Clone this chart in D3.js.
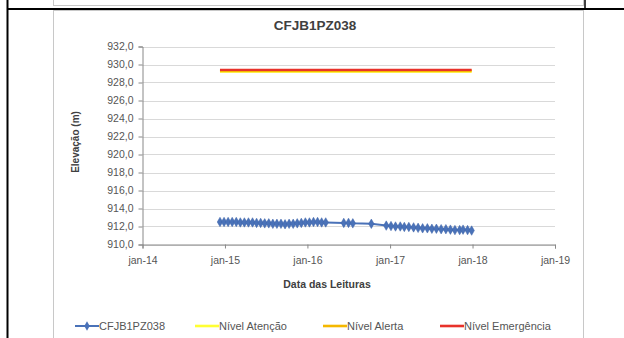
<!DOCTYPE html>
<html><head><meta charset="utf-8">
<script src="https://cdnjs.cloudflare.com/ajax/libs/d3/7.8.5/d3.min.js"></script>
<style>body{margin:0;background:#fff}svg{display:block}</style>
</head><body>
<svg id="c" width="624" height="338"></svg>
<script>
const title = "CFJB1PZ038";
const yTicks = [910,912,914,916,918,920,922,924,926,928,930,932];
const xTickDates = ["2014-01-01","2015-01-01","2016-01-01","2017-01-01","2018-01-01","2019-01-01"];
const xTickLabels = ["jan-14","jan-15","jan-16","jan-17","jan-18","jan-19"];
const readDates = ["2014-12-10","2014-12-28","2015-01-15","2015-02-02","2015-02-20","2015-03-10","2015-03-28","2015-04-15","2015-05-03","2015-05-21","2015-06-08","2015-06-26","2015-07-14","2015-08-01","2015-08-19","2015-09-06","2015-09-24","2015-10-12","2015-10-30","2015-11-17","2015-12-05","2015-12-23","2016-01-10","2016-01-28","2016-02-15","2016-03-04","2016-03-22","2016-06-10","2016-07-01","2016-07-20","2016-10-10","2016-12-15","2017-01-05","2017-01-25","2017-02-15","2017-03-05","2017-03-25","2017-04-15","2017-05-05","2017-05-25","2017-06-15","2017-07-05","2017-07-25","2017-08-15","2017-09-05","2017-09-25","2017-10-15","2017-11-05","2017-11-20","2017-12-10","2017-12-28"];
const readValues = [912.5,912.5,912.5,912.5,912.5,912.45,912.45,912.45,912.45,912.4,912.4,912.35,912.35,912.3,912.3,912.3,912.25,912.3,912.3,912.35,912.4,912.45,912.45,912.5,912.5,912.45,912.45,912.4,912.4,912.35,912.3,912.1,912.05,912.0,912.0,911.95,911.95,911.9,911.85,911.8,911.8,911.75,911.75,911.7,911.7,911.65,911.6,911.6,911.65,911.6,911.55];
const limitDates = ["2014-12-10","2017-12-28"];
const nivelAtencao = [929.25,929.25];
const nivelAlerta = [929.3,929.3];
const nivelEmergencia = [929.4,929.4];
const seriesNames = ["CFJB1PZ038","Nível Atenção","Nível Alerta","Nível Emergência"];
const seriesColors = ["#4a72b8","#ffff33","#f5b800","#e8322a"];

const svg = d3.select("#c");
const parse = d3.timeParse("%Y-%m-%d");
const font = "'Liberation Sans', Arial, sans-serif";

// table lines
svg.append("line").attr("x1",7.5).attr("x2",7.5).attr("y1",0).attr("y2",338).attr("stroke","#000").attr("stroke-width",2);
svg.append("line").attr("x1",7).attr("x2",624).attr("y1",9).attr("y2",9).attr("stroke","#000").attr("stroke-width",2);
svg.append("line").attr("x1",585).attr("x2",585).attr("y1",0).attr("y2",9).attr("stroke","#000").attr("stroke-width",1.5);
// previous chart frame
svg.append("rect").attr("x",53.5).attr("y",-10).attr("width",530).attr("height",15.5).attr("fill","#fff").attr("stroke","#c8c8c8");
// chart frame
svg.append("rect").attr("x",53.5).attr("y",10.5).attr("width",530).attr("height",340).attr("fill","#fff").attr("stroke","#c8c8c8");

const x = d3.scaleTime().domain([parse(xTickDates[0]), parse(xTickDates[xTickDates.length-1])]).range([142.5,555]);
const y = d3.scaleLinear().domain([910,932]).range([244.5,46.5]);

// gridlines
svg.append("g").selectAll("line").data(yTicks).join("line")
  .attr("x1",142.5).attr("x2",555).attr("y1",d=>Math.round(y(d))+0.5).attr("y2",d=>Math.round(y(d))+0.5)
  .attr("stroke","#d9d9d9");

// y axis
const yAxis = d3.axisLeft(y).tickValues(yTicks).tickSize(4).tickPadding(5).tickFormat(d=>d3.format(".1f")(d).replace(".",","));
const gy = svg.append("g").attr("transform","translate(142.5,0)").call(yAxis);
gy.select(".domain").attr("stroke","#888");
gy.selectAll(".tick line").attr("stroke","#888");
gy.selectAll("text").attr("font-family",font).attr("font-size",10.5).attr("fill","#555");

// x axis
const xAxis = d3.axisBottom(x).tickValues(xTickDates.map(parse)).tickSize(4).tickPadding(8).tickFormat((d,i)=>xTickLabels[i]);
const gx = svg.append("g").attr("transform","translate(0,244.5)").call(xAxis);
gx.select(".domain").attr("stroke","#888");
gx.selectAll(".tick line").attr("stroke","#888");
gx.selectAll("text").attr("font-family",font).attr("font-size",10.5).attr("fill","#555");

// limit lines
const limits = [nivelAtencao, nivelAlerta, nivelEmergencia];
const line = d3.line().x(d=>x(d[0])).y(d=>y(d[1]));
const limW = [3,2.8,2.4];
limits.forEach((vals,i)=>{
  const pts = limitDates.map((d,j)=>[parse(d), vals[j]]);
  svg.append("path").attr("d",line(pts)).attr("fill","none").attr("stroke",seriesColors[i+1]).attr("stroke-width",limW[i]);
});

// reading series
const pts = readDates.map((d,i)=>[parse(d), readValues[i]]);
svg.append("path").attr("d",line(pts)).attr("fill","none").attr("stroke",seriesColors[0]).attr("stroke-width",2);
const diamond = d3.symbol().type(d3.symbolDiamond).size(26);
svg.append("g").selectAll("path").data(pts).join("path")
  .attr("transform",d=>`translate(${x(d[0])},${y(d[1])})`).attr("d",diamond)
  .attr("fill",seriesColors[0]).attr("stroke","#3d63a8").attr("stroke-width",0.5);

// titles
svg.append("text").attr("x",315).attr("y",30).attr("text-anchor","middle").attr("font-family",font)
  .attr("font-weight","bold").attr("font-size",13.5).attr("fill","#404040").text(title);
svg.append("text").attr("x",327).attr("y",288).attr("text-anchor","middle").attr("font-family",font)
  .attr("font-weight","bold").attr("font-size",10.5).attr("fill","#404040").text("Data das Leituras");
svg.append("text").attr("transform","translate(79,142) rotate(-90)").attr("text-anchor","middle").attr("font-family",font)
  .attr("font-weight","bold").attr("font-size",10).attr("fill","#404040").text("Elevação (m)");

// legend
const legX = [75,195,323,440];
const lg = svg.append("g");
seriesNames.forEach((n,i)=>{
  const g = lg.append("g").attr("transform",`translate(${legX[i]},326)`);
  g.append("line").attr("x1",0).attr("x2",24).attr("y1",0).attr("y2",0).attr("stroke",seriesColors[i]).attr("stroke-width",i===0?2:2.6);
  if(i===0) g.append("path").attr("transform","translate(12,0)").attr("d",diamond).attr("fill",seriesColors[0]);
  g.append("text").attr("x",24).attr("y",4).attr("font-family",font).attr("font-size",11).attr("fill","#555").text(n);
});
</script>
</body></html>
